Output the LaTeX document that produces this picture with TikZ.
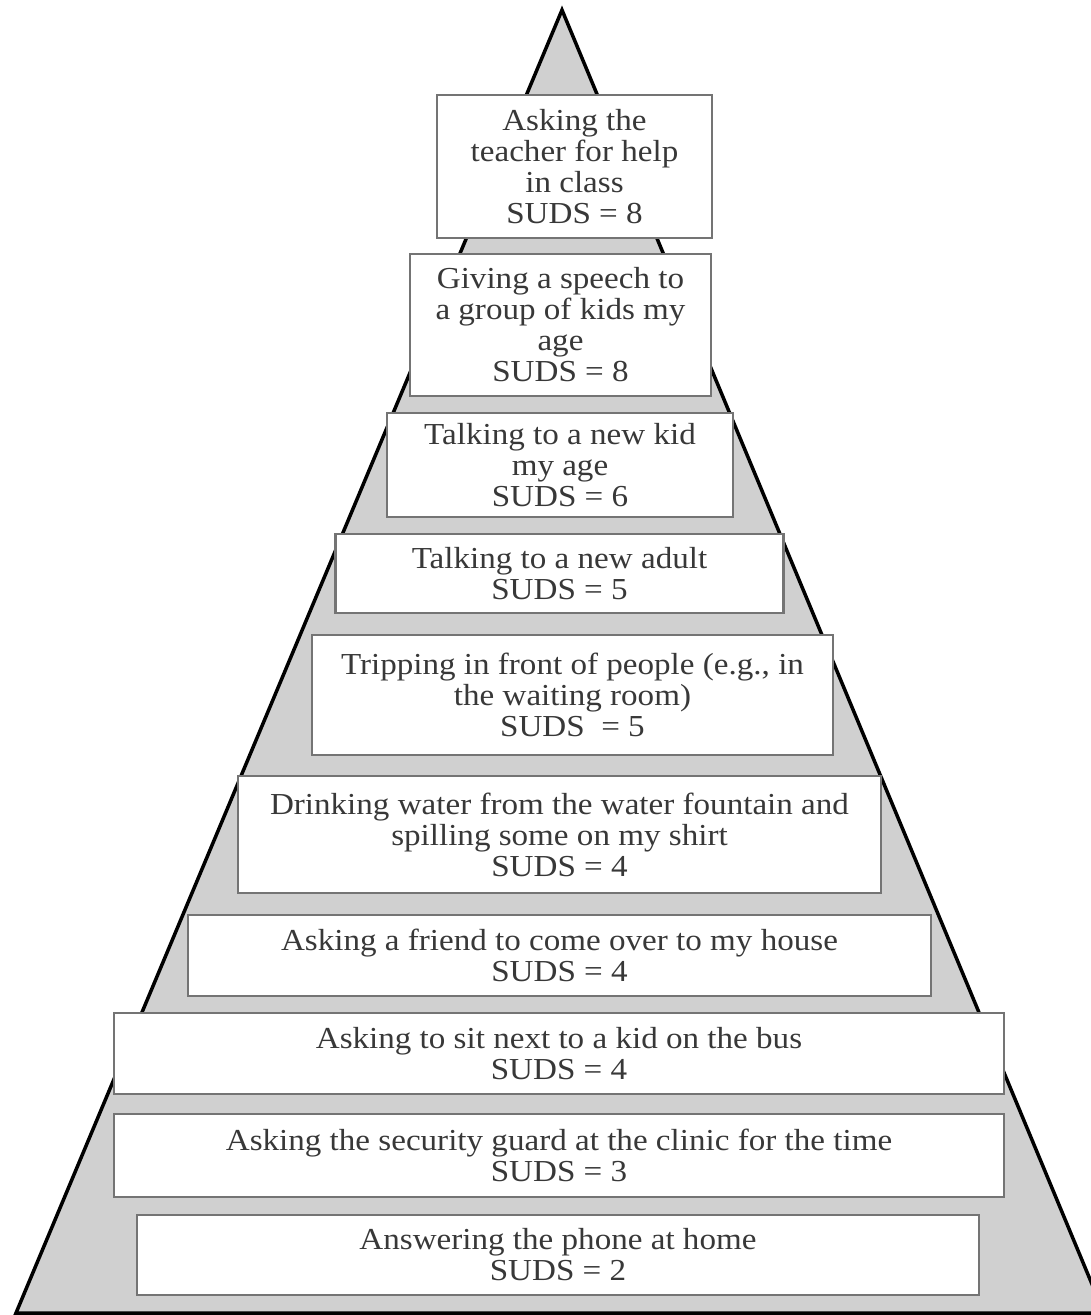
\documentclass[tikz,border=0pt]{standalone}
\usepackage{fontspec}
\setmainfont{Liberation Serif}[FakeStretch=1.085]
\definecolor{trigray}{HTML}{D0D0D0}
\definecolor{boxgray}{HTML}{747474}
\begin{document}
\begin{tikzpicture}[x=1pt,y=-1pt,
  box/.style={draw=boxgray, line width=2.5pt, fill=white, inner sep=0pt,
    align=center, text=black!78, font=\fontsize{30.5}{31}\selectfont}]
\useasboundingbox (0,0) rectangle (1091,1315);
\begin{scope}
  \clip (0,0) rectangle (1091,1315);
  \draw[fill=trigray, line width=3.5pt, line join=miter] (562,10) -- (16,1313) -- (1104,1313) -- cycle;
\end{scope}
\node[box, minimum width=275pt, minimum height=143pt] (b1) at (574.5,166.5) {Asking the\\teacher for help\\in class\\SUDS = 8};
\node[box, minimum width=301pt, minimum height=142pt] (b2) at (560.5,325) {Giving a speech to\\a group of kids my\\age\\SUDS = 8};
\node[box, minimum width=346pt, minimum height=104pt] (b3) at (560,465) {Talking to a new kid\\my age\\SUDS = 6};
\node[box, minimum width=448pt, minimum height=79pt] (b4) at (559.5,573.5) {Talking to a new adult\\SUDS = 5};
\node[box, minimum width=521pt, minimum height=120pt] (b5) at (572.5,695) {Tripping in front of people (e.g., in\\the waiting room)\\SUDS~~= 5};
\node[box, minimum width=643pt, minimum height=117pt] (b6) at (559.5,834.5) {Drinking water from the water fountain and\\spilling some on my shirt\\SUDS = 4};
\node[box, minimum width=743pt, minimum height=81pt] (b7) at (559.5,955.5) {Asking a friend to come over to my house\\SUDS = 4};
\node[box, minimum width=890pt, minimum height=81pt] (b8) at (559,1053.5) {Asking to sit next to a kid on the bus\\SUDS = 4};
\node[box, minimum width=890pt, minimum height=83pt] (b9) at (559,1155.5) {Asking the security guard at the clinic for the time\\SUDS = 3};
\node[box, minimum width=842pt, minimum height=80pt] (b10) at (558,1255) {Answering the phone at home\\SUDS = 2};
\end{tikzpicture}
\end{document}
